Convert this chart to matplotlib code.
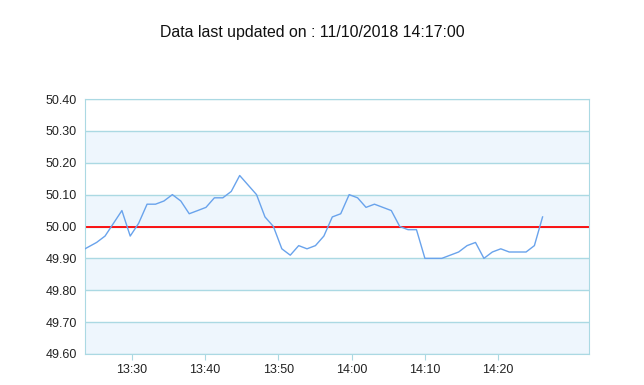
import matplotlib
matplotlib.use("Agg")
import matplotlib.pyplot as plt
import matplotlib.dates as mdates
import pandas as pd

TITLE = "Data last updated on : 11/10/2018 14:17:00"

TIMES = [
    "13:23:38", "13:25:13", "13:26:22", "13:27:31", "13:28:40", "13:29:48",
    "13:30:57", "13:32:06", "13:33:15", "13:34:24", "13:35:33", "13:36:42",
    "13:37:51", "13:39:00", "13:40:08", "13:41:17", "13:42:26", "13:43:35",
    "13:44:44", "13:45:53", "13:47:02", "13:48:11", "13:49:20", "13:50:29",
    "13:51:38", "13:52:47", "13:53:55", "13:55:04", "13:56:13", "13:57:22",
    "13:58:31", "13:59:40", "14:00:49", "14:01:58", "14:03:07", "14:04:16",
    "14:05:25", "14:06:34", "14:07:42", "14:08:51", "14:10:00", "14:11:09",
    "14:12:18", "14:13:27", "14:14:36", "14:15:45", "14:16:54", "14:18:03",
    "14:19:12", "14:20:21", "14:21:30", "14:22:39", "14:23:48", "14:24:56",
    "14:26:03",
]
FREQ = [
    49.93, 49.95, 49.97, 50.01, 50.05, 49.97,
    50.01, 50.07, 50.07, 50.08, 50.10, 50.08,
    50.04, 50.05, 50.06, 50.09, 50.09, 50.11,
    50.16, 50.13, 50.10, 50.03, 50.00, 49.93,
    49.91, 49.94, 49.93, 49.94, 49.97, 50.03,
    50.04, 50.10, 50.09, 50.06, 50.07, 50.06,
    50.05, 50.00, 49.99, 49.99, 49.90, 49.90,
    49.90, 49.91, 49.92, 49.94, 49.95, 49.90,
    49.92, 49.93, 49.92, 49.92, 49.92, 49.94,
    50.03,
]
Y_TICKS = [49.60, 49.70, 49.80, 49.90, 50.00, 50.10, 50.20, 50.30, 50.40]
X_TICKS = ["13:30", "13:40", "13:50", "14:00", "14:10", "14:20"]
X_RANGE = ["13:23:38", "14:32:23"]
TARGET = 50.00

plt.rcParams["font.family"] = ["Liberation Sans", "DejaVu Sans"]

day = "2018-11-10 "
t = pd.to_datetime([day + s for s in TIMES])

fig = plt.figure(figsize=(6.44, 3.85), dpi=100)
ax = fig.add_axes([85 / 644, 1 - 354 / 385, (589 - 85) / 644, (354 - 99) / 385])

grid_c = "#abd9e3"
# alternating bands
for i in range(len(Y_TICKS) - 1):
    if i % 2 == 0:
        ax.axhspan(Y_TICKS[i], Y_TICKS[i + 1], color="#eef6fd", lw=0, zorder=0)
for y in Y_TICKS:
    ax.axhline(y, color=grid_c, lw=1, zorder=1)

ax.axhline(TARGET, color="#ff0000", lw=1.3, zorder=2)
ax.plot(t, FREQ, color="#69a3ec", lw=1, zorder=3)

ax.set_ylim(Y_TICKS[0], Y_TICKS[-1])
ax.set_yticks(Y_TICKS)
ax.set_yticklabels([f"{v:.2f}" for v in Y_TICKS])
ax.set_xlim(pd.to_datetime(day + X_RANGE[0]), pd.to_datetime(day + X_RANGE[1]))
ax.set_xticks(pd.to_datetime([day + s for s in X_TICKS]))
ax.xaxis.set_major_formatter(mdates.DateFormatter("%H:%M"))

for s in ax.spines.values():
    s.set_color(grid_c)
ax.tick_params(axis="y", length=0, labelsize=9, colors="#222222", pad=6)
ax.tick_params(axis="x", length=4, color=grid_c, labelsize=9, labelcolor="#222222", pad=3)

fig.text(312 / 644, 1 - 33 / 385, TITLE, ha="center", va="center", fontsize=11.4, color="#111111")

fig.savefig("out.png", dpi=100)
